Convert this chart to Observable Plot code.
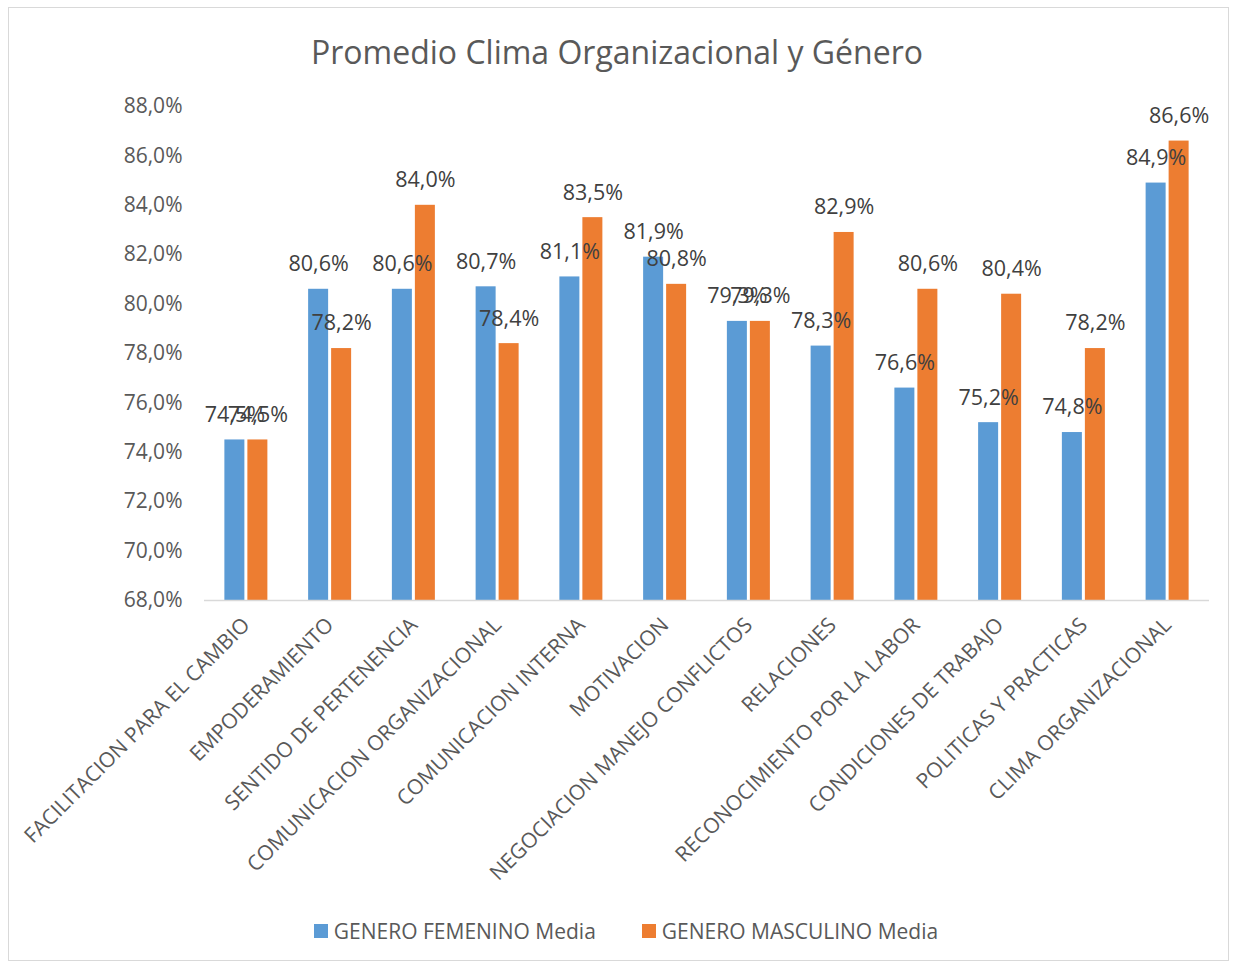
<!DOCTYPE html>
<html>
<head>
<meta charset="utf-8">
<script src="https://cdn.jsdelivr.net/npm/d3@7"></script>
<script src="https://cdn.jsdelivr.net/npm/@observablehq/plot@0.6"></script>
<style>
  html, body { margin: 0; padding: 0; background: #fff; }
  #page { position: relative; width: 1234px; height: 964px; overflow: hidden; }
  #border { position: absolute; left: 8px; top: 7px; width: 1221px; height: 954px; border: 1px solid #d9d9d9; box-sizing: border-box; }
  #title { position: absolute; left: 0; width: 1234px; top: 30px; text-align: center; font-family: "Open Sans", sans-serif; font-size: 32px; line-height: 44px; color: #595959; }
  #chart { position: absolute; left: 0; top: 80px; width: 1234px; }
  #chart svg { max-width: none; }
  #legend { position: absolute; left: 9px; width: 1234px; top: 917px; display: flex; justify-content: center; gap: 46px; font-family: "Open Sans", sans-serif; font-size: 21px; color: #595959; }
  .item { display: flex; align-items: center; gap: 6px; }
  .sw { width: 14px; height: 14px; display: inline-block; }
</style>
</head>
<body>
<div id="page">
  <div id="border"></div>
  <div id="title">Promedio Clima Organizacional y Género</div>
  <div id="chart"></div>
  <div id="legend"></div>
</div>
<script>
const categorias = [
  "FACILITACION PARA EL CAMBIO",
  "EMPODERAMIENTO",
  "SENTIDO DE PERTENENCIA",
  "COMUNICACION ORGANIZACIONAL",
  "COMUNICACION INTERNA",
  "MOTIVACION",
  "NEGOCIACION MANEJO CONFLICTOS",
  "RELACIONES",
  "RECONOCIMIENTO POR LA LABOR",
  "CONDICIONES DE TRABAJO",
  "POLITICAS Y PRACTICAS",
  "CLIMA ORGANIZACIONAL"
];
const femenino  = [74.5, 80.6, 80.6, 80.7, 81.1, 81.9, 79.3, 78.3, 76.6, 75.2, 74.8, 84.9];
const masculino = [74.5, 78.2, 84.0, 78.4, 83.5, 80.8, 79.3, 82.9, 80.6, 80.4, 78.2, 86.6];
const series = ["GENERO FEMENINO Media", "GENERO MASCULINO Media"];
const colores = ["#5B9BD5", "#ED7D31"];
const yTicks = [68, 70, 72, 74, 76, 78, 80, 82, 84, 86, 88];

const fmt = v => v.toFixed(1).replace(".", ",") + "%";
const dataF = categorias.map((c, i) => ({cat: c, value: femenino[i], serie: series[0]}));
const dataM = categorias.map((c, i) => ({cat: c, value: masculino[i], serie: series[1]}));

const W = 1234, marginLeft = 204, marginRight = 25;
const band = (W - marginLeft - marginRight) / categorias.length;
const barW = 20, off = 11.5;
const inset = (band - barW) / 2;

const plot = Plot.plot({
  width: W,
  height: 820,
  marginLeft, marginRight,
  marginTop: 26,
  marginBottom: 300,
  style: {fontFamily: "Open Sans, sans-serif", fontSize: "21px", color: "#595959", background: "transparent"},
  x: {domain: categorias, padding: 0, round: false, label: null, tickSize: 0, tickPadding: 21, tickRotate: -45},
  y: {domain: [68, 88], ticks: yTicks, tickFormat: fmt, label: null, tickSize: 0, tickPadding: 22},
  color: {domain: series, range: colores},
  marks: [
    Plot.barY(dataF, {x: "cat", y1: 68, y2: "value", fill: colores[0], insetLeft: inset, insetRight: inset, dx: -off}),
    Plot.barY(dataM, {x: "cat", y1: 68, y2: "value", fill: colores[1], insetLeft: inset, insetRight: inset, dx: off}),
    Plot.ruleY([68], {stroke: "#d9d9d9", strokeWidth: 1.3}),
    Plot.text(dataF, {x: "cat", y: "value", text: d => fmt(d.value), dx: -off, dy: -25, fill: "#404040", fontSize: 21.5}),
    Plot.text(dataM, {x: "cat", y: "value", text: d => fmt(d.value), dx: off, dy: -25, fill: "#404040", fontSize: 21.5})
  ]
});
document.getElementById("chart").appendChild(plot);

const legend = document.getElementById("legend");
series.forEach((s, i) => {
  const it = document.createElement("div");
  it.className = "item";
  it.innerHTML = `<span class="sw" style="background:${colores[i]}"></span><span>${s}</span>`;
  legend.appendChild(it);
});
</script>
</body>
</html>
